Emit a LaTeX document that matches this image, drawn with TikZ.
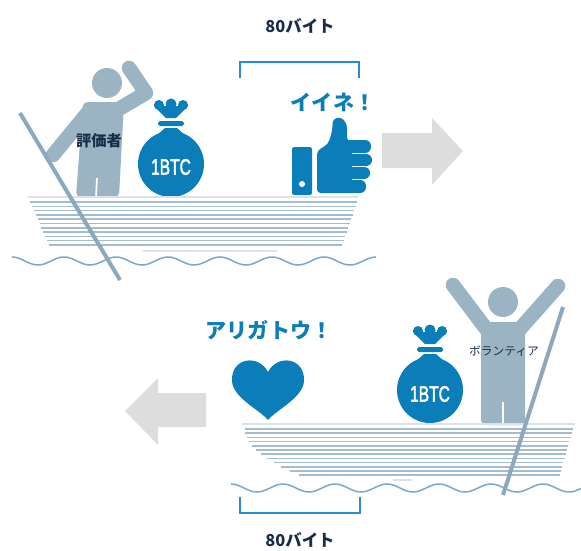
\documentclass[tikz,border=0pt]{standalone}
\usepackage{fontspec}
\newfontfamily\jp{Noto Sans CJK JP}
\newfontfamily\coinfont[FakeBold=2.5]{Liberation Sans}

\definecolor{iconblue}{RGB}{11,125,184}
\definecolor{figgray}{RGB}{155,180,196}
\definecolor{polecol}{RGB}{140,168,190}
\definecolor{hull}{RGB}{165,188,204}
\definecolor{hulllight}{RGB}{218,227,234}
\definecolor{wavecol}{RGB}{125,168,205}
\definecolor{bracketcol}{RGB}{40,140,205}
\definecolor{arrowgray}{RGB}{221,221,221}
\definecolor{textdark}{RGB}{25,45,75}

\tikzset{
  limb/.style={draw=figgray, line width=12.5pt, line cap=round, line join=round},
  pole/.style={draw=polecol, line width=3.4pt},
  plank/.style={draw=hull, line width=1.3pt},
  wave/.style={draw=wavecol, line width=1.3pt},
  bracket/.style={draw=bracketcol, line width=1.7pt},
  say/.style={font=\jp\bfseries\fontsize{18}{18}\selectfont, text=iconblue},
  size/.style={font=\jp\bfseries\fontsize{14}{14}\selectfont, text=textdark},
  who/.style={font=\jp\bfseries\fontsize{13}{13}\selectfont, text=textdark},
  coin/.style={font=\coinfont\fontsize{19}{19}\selectfont, text=white, xscale=0.7},
  bag/.pic={
    \fill[iconblue] (0,0) circle (33);
    \fill[iconblue] (-6,-36) -- (6,-36) -- (24,-20) -- (-24,-20) -- cycle;
    \fill[iconblue, rounded corners=1.5pt] (-13,-43) rectangle (13,-38);
    \fill[iconblue] (-5,-46) -- (5,-46) -- (17,-58) -- (-17,-58) -- cycle;
    \fill[iconblue] (-12,-59) circle (5) (0,-60) circle (5.5) (12,-59) circle (5);
  }
}

\begin{document}
\begin{tikzpicture}[x=0.03cm,y=-0.03cm]
\useasboundingbox (0,0) rectangle (581,550);

% byte brackets
\node[size] (topsize) at (300,26) {80バイト};
\draw[bracket] (240,78) -- (240,62) -- (359,62) -- (359,78);

% upper boat: the evaluator
\fill[figgray] (107,83) circle (15);
\fill[figgray, rounded corners=4pt] (83,102) -- (124,102) -- (119,197) -- (76,197) -- cycle;
\draw[limb] (90,110) -- (53,155);
\draw[limb] (117,110) -- (146,93) -- (129,68);
\draw[white, line width=1.5pt] (97,178) -- (96,198);
\node[who] (judge) at (99,141) {評価者};

\pic at (171,164) {bag};
\node[coin] (btc1) at (171,167) {1BTC};

% thumbs up
\fill[iconblue, rounded corners=2pt] (292,147) rectangle (312,195);
\fill[white] (302,184) circle (3);
\fill[iconblue, rounded corners=3pt] (317,193) -- (317,151) -- (328,144) -- (332,132) -- (333,119)
  -- (341,117) -- (347,124) -- (347,141) -- (352,141) -- (352,193) -- cycle;
\fill[iconblue, rounded corners=5pt] (343,140) rectangle (371,153);
\fill[iconblue, rounded corners=5pt] (345,154) rectangle (372,166);
\fill[iconblue, rounded corners=5pt] (345,167) rectangle (370,179);
\fill[iconblue, rounded corners=5pt] (343,180) rectangle (366,193);
\node[say] (like) at (333,102) {イイネ！};

\fill[arrowgray] (382,133) -- (432,133) -- (432,118) -- (463,151) -- (432,185) -- (432,168) -- (382,168) -- cycle;

\draw[plank, draw=hulllight] (28,197) -- (358,197);
\foreach \i in {0,...,10}
  \draw[plank] ({30+1.9*\i},{202+4.3*\i}) -- ({357-1.5*\i},{202+4.3*\i});
\draw[plank, draw=hulllight] (143,251) -- (277,251);
\draw[wave] plot[domain=12:376, samples=160, smooth] (\x,{261-4*cos((\x-12)/52*360)});
\draw[pole] (20,113) -- (120,280);

% lower boat: the volunteer
\node[say] (thanks) at (269,330) {アリガトウ！};
\fill[iconblue] (268,372) .. controls (259,354) and (231,357) .. (232,381)
  .. controls (233,398) and (260,410) .. (268,420)
  .. controls (276,410) and (303,398) .. (304,381)
  .. controls (305,357) and (277,354) .. (268,372);
\fill[arrowgray] (206,393) -- (158,393) -- (158,378) -- (125,411) -- (158,445) -- (158,427) -- (206,427) -- cycle;

\fill[figgray] (503,302) circle (15);
\fill[figgray, rounded corners=4pt] (481,322) -- (525,322) -- (525,425) -- (481,425) -- cycle;
\draw[limb] (487,330) -- (453,285);
\draw[limb] (519,330) -- (558,286);
\draw[white, line width=1.5pt] (503,402) -- (503,425);
\node[who, font=\jp\fontsize{10}{10}\selectfont] (helper) at (504,351) {ボランティア};

\pic at (430,390) {bag};
\node[coin] (btc2) at (430,394) {1BTC};

\draw[plank, draw=hulllight] (242,424) -- (575,424);
\foreach \i in {0,...,11}
  \draw[plank] ({245+0.45*\i*\i},{429+4.2*\i}) -- ({573-1.2*\i},{429+4.2*\i});
\draw[plank, draw=hulllight] (393,480) -- (412,480);
\draw[wave] plot[domain=231:581, samples=160, smooth] (\x,{488-4*cos((\x-231)/52*360)});
\draw[pole] (563,307) -- (503,495);

\draw[bracket] (240,497) -- (240,513) -- (360,513) -- (360,497);
\node[size] (botsize) at (300,540) {80バイト};
\end{tikzpicture}
\end{document}
